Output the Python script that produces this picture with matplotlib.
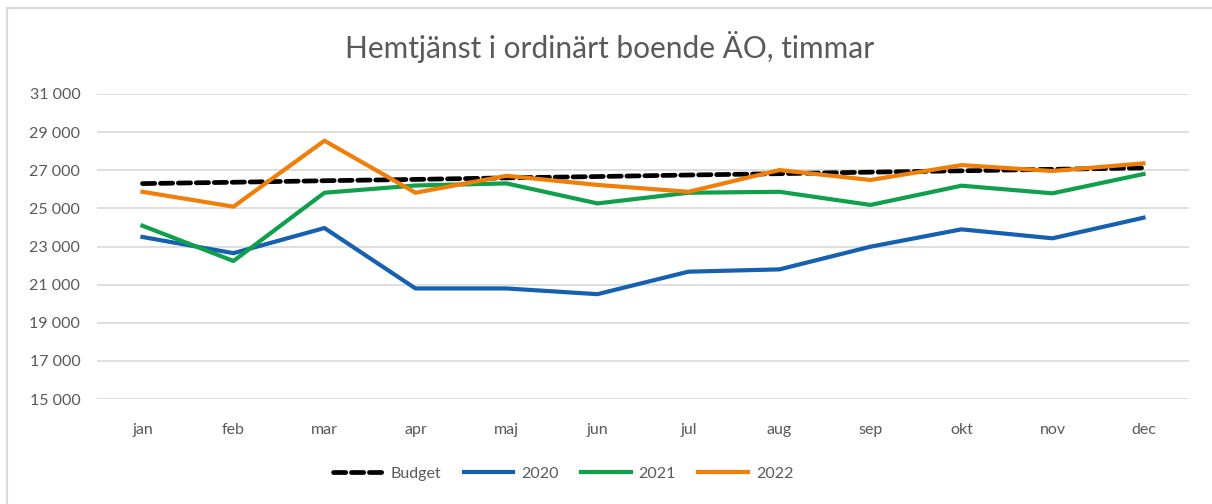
import numpy as np
import matplotlib.pyplot as plt
from matplotlib.lines import Line2D
from matplotlib.ticker import FuncFormatter

months = ['jan', 'feb', 'mar', 'apr', 'maj', 'jun', 'jul', 'aug', 'sep', 'okt', 'nov', 'dec']
budget = [26300, 26370, 26450, 26520, 26600, 26670, 26750, 26820, 26900, 26970, 27050, 27120]
y2020 = [23500, 22650, 23970, 20800, 20800, 20500, 21680, 21800, 22990, 23900, 23430, 24510]
y2021 = [24090, 22240, 25820, 26200, 26310, 25260, 25820, 25870, 25180, 26190, 25790, 26800]
y2022 = [25870, 25090, 28550, 25820, 26710, 26230, 25870, 27010, 26490, 27270, 26960, 27360]

title = 'Hemtjänst i ordinärt boende ÄO, timmar'
grey = '#595959'

plt.rcParams['font.family'] = ['Lato', 'DejaVu Sans']

fig = plt.figure(figsize=(12.12, 5.04), dpi=100)
ax = fig.add_axes([0.080, 0.2083, 0.901, 0.6052])

x = np.arange(len(months))
ax.plot(x, budget, color='black', lw=3.4, ls=(0, (2.6, 1.2)), label='Budget', dash_capstyle='round')
ax.plot(x, y2020, color='#1560B0', lw=3, label='2020')
ax.plot(x, y2021, color='#10A04C', lw=3, label='2021')
ax.plot(x, y2022, color='#F07F09', lw=3, label='2022')

ax.set_xlim(-0.5, 11.5)
ax.set_ylim(15000, 31000)
ax.set_yticks(np.arange(15000, 31001, 2000))
ax.yaxis.set_major_formatter(FuncFormatter(lambda v, p: f'{int(v):,}'.replace(',', '\u00a0')))
ax.set_xticks(x)
ax.set_xticklabels(months)
ax.tick_params(length=0, colors=grey, labelsize=11.5)
ax.tick_params(axis='x', pad=17)
ax.tick_params(axis='y', pad=12)
ax.grid(axis='y', color='#D9D9D9', lw=1.2)
ax.set_axisbelow(True)
for s in ax.spines.values():
    s.set_visible(False)

fig.text(0.503, 0.906, title, ha='center', va='center', fontsize=21.5, color=grey)

leg = ax.legend(loc='center', bbox_to_anchor=(0.427, -0.245), ncol=4, frameon=False,
                fontsize=11.5, handlelength=3.1, columnspacing=1.4, handletextpad=0.5)
for t in leg.get_texts():
    t.set_color(grey)

# chart border (top and left edge visible)
fig.add_artist(Line2D([7/1212, 1], [1-8/504, 1-8/504], color='#D9D9D9', lw=1.5))
fig.add_artist(Line2D([7/1212, 7/1212], [0, 1-8/504], color='#D9D9D9', lw=1.5))

fig.savefig('out.png', dpi=100)
